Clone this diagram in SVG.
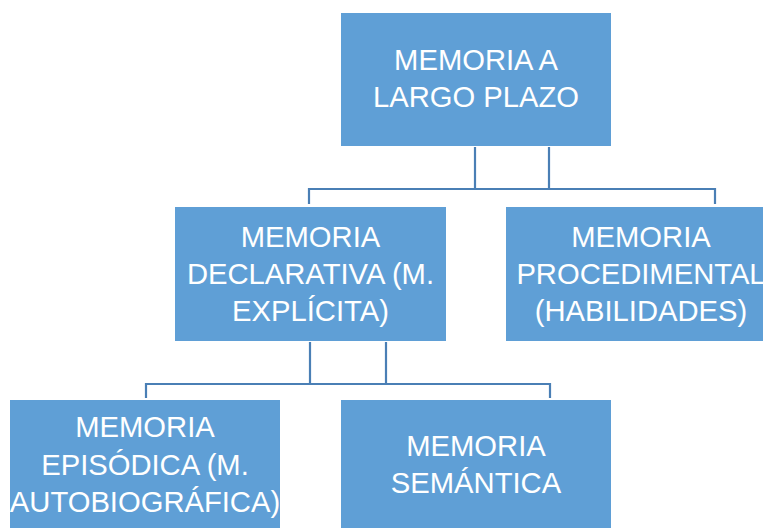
<svg xmlns="http://www.w3.org/2000/svg" width="763" height="528" viewBox="0 0 763 528">
<style>
.box{fill:#5f9fd6;}
.lbl{fill:#ffffff;font-family:"Liberation Sans",Arial,sans-serif;font-size:29.2px;text-anchor:middle;}
.con{fill:none;stroke:#4a7fb5;stroke-width:2.2;}
</style>
<rect width="763" height="528" fill="#ffffff"/>
<g id="connectors">
<path class="con" d="M549 147 V189 H309 V204"/>
<path class="con" d="M475 147 V189 H715 V204"/>
<path class="con" d="M386 342 V384 H146 V398"/>
<path class="con" d="M310 342 V384 H550 V398"/>
</g>
<g id="n-largo">
<rect class="box" x="341" y="13" width="270" height="133"/>
<text class="lbl" x="476" y="70">MEMORIA A</text>
<text class="lbl" x="476" y="107">LARGO PLAZO</text>
</g>
<g id="n-declarativa">
<rect class="box" x="175" y="207" width="271" height="134"/>
<text class="lbl" x="310.5" y="247">MEMORIA</text>
<text class="lbl" x="310.5" y="284">DECLARATIVA (M.</text>
<text class="lbl" x="310.5" y="321">EXPLÍCITA)</text>
</g>
<g id="n-procedimental">
<rect class="box" x="506" y="207" width="270" height="134"/>
<text class="lbl" x="641" y="247">MEMORIA</text>
<text class="lbl" x="641" y="284">PROCEDIMENTAL</text>
<text class="lbl" x="641" y="321">(HABILIDADES)</text>
</g>
<g id="n-episodica">
<rect class="box" x="10" y="400" width="270" height="134"/>
<text class="lbl" x="145" y="437">MEMORIA</text>
<text class="lbl" x="145" y="475">EPISÓDICA (M.</text>
<text class="lbl" x="145" y="512">AUTOBIOGRÁFICA)</text>
</g>
<g id="n-semantica">
<rect class="box" x="341" y="400" width="270" height="134"/>
<text class="lbl" x="476" y="456">MEMORIA</text>
<text class="lbl" x="476" y="493">SEMÁNTICA</text>
</g>
</svg>
